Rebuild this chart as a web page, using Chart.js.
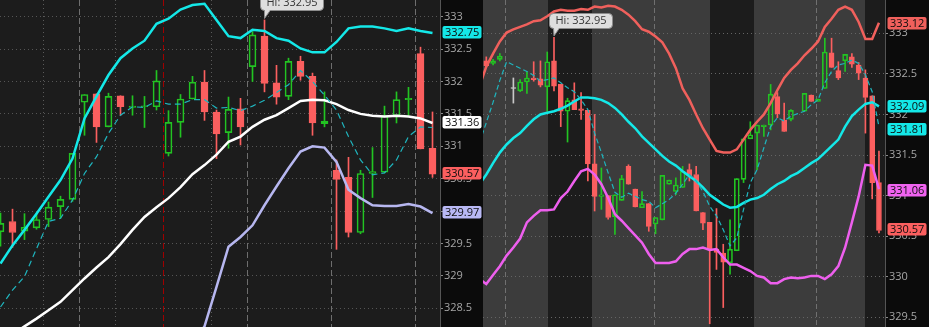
<!DOCTYPE html>
<html>
<head>
<meta charset="utf-8">
<script src="https://cdn.jsdelivr.net/npm/chart.js@4.4.0/dist/chart.umd.min.js"></script>
<style>
  html, body { margin: 0; padding: 0; background: #0b0b0b; overflow: hidden; }
  canvas { position: absolute; top: 0; }
  #izq { left: 0; }
  #der { left: 483px; }
</style>
</head>
<body>
<canvas id="izq" width="482" height="327" style="width:482px;height:327px"></canvas>
<canvas id="der" width="446" height="327" style="width:446px;height:327px"></canvas>
<script>
// DATOS PANEL IZQUIERDO (una vela por posición)
const izqApertura = [329.68, 329.84, 329.69, 329.74, 329.87, 330.07, 330.18, 331.68, 331.81, 331.30, 331.78, 331.60, 331.61, 331.61, 330.89, 331.37, 331.73, 331.99, 331.53, 331.21, 331.58, 332.23, 332.70, 331.98, 331.77, 332.31, 332.08, 331.35, 330.63, 330.52, 329.67, 330.58, 330.60, 331.47, 331.72, 332.43, 330.97];
const izqMaximo = [329.97, 330.03, 329.96, 329.97, 330.14, 330.23, 330.89, 331.80, 331.81, 331.82, 331.78, 331.78, 331.77, 332.17, 331.55, 331.80, 332.08, 332.17, 331.56, 331.76, 331.74, 332.77, 332.95, 332.25, 332.36, 332.39, 332.13, 331.84, 330.79, 330.83, 330.63, 330.98, 331.62, 331.84, 331.91, 332.53, 331.53];
const izqMinimo = [329.46, 329.44, 329.56, 329.72, 329.76, 329.89, 330.15, 331.17, 331.06, 331.30, 331.48, 331.48, 331.29, 331.56, 330.85, 331.14, 331.73, 331.40, 330.81, 330.97, 331.02, 332.00, 331.84, 331.65, 331.72, 332.02, 331.17, 331.30, 329.41, 329.60, 329.65, 330.21, 330.59, 331.36, 331.48, 330.96, 330.52];
const izqCierre = [329.81, 329.67, 329.75, 329.87, 330.06, 330.18, 330.89, 331.80, 331.30, 331.77, 331.61, 331.62, 331.62, 332.01, 331.37, 331.73, 331.99, 331.53, 331.19, 331.57, 331.30, 332.72, 331.97, 331.76, 332.31, 332.08, 331.36, 331.39, 330.49, 329.67, 330.58, 330.61, 331.47, 331.72, 331.74, 330.96, 330.57];
const izqBandaSup = [329.19, 329.47, 329.71, 329.96, 330.22, 330.48, 330.81, 331.43, 331.77, 332.10, 332.36, 332.51, 332.63, 332.89, 332.97, 333.11, 333.18, 333.20, 332.95, 332.70, 332.67, 332.80, 332.78, 332.67, 332.63, 332.51, 332.45, 332.45, 332.61, 332.82, 332.85, 332.85, 332.82, 332.78, 332.82, 332.78, 332.75];
const izqMedia = [327.98, 328.10, 328.22, 328.34, 328.47, 328.60, 328.78, 328.96, 329.13, 329.29, 329.49, 329.71, 329.91, 330.06, 330.20, 330.37, 330.57, 330.71, 330.87, 331.07, 331.15, 331.30, 331.41, 331.48, 331.59, 331.70, 331.72, 331.71, 331.65, 331.56, 331.50, 331.47, 331.46, 331.47, 331.46, 331.43, 331.36];
const izqBandaInf = [null, null, null, null, null, null, null, null, null, null, null, null, null, null, null, null, 327.98, 328.22, 328.83, 329.45, 329.60, 329.78, 330.09, 330.38, 330.66, 330.92, 331.00, 330.98, 330.76, 330.33, 330.20, 330.09, 330.08, 330.08, 330.11, 330.07, 329.97];
const izqPromedio = [328.52, 328.78, 328.99, 329.42, 329.84, 329.89, 330.17, 330.58, 330.84, 331.20, 331.48, 331.61, 331.60, 331.70, 331.65, 331.65, 331.72, 331.72, 331.59, 331.60, 331.55, 331.62, 331.71, 331.83, 331.95, 332.17, 332.00, 331.79, 331.56, 331.15, 330.79, 330.56, 330.59, 330.79, 331.15, 331.30, 331.29];
const izqTicks = [333, 332.5, 332, 331.5, 331, 330.5, 330, 329.5, 329, 328.5];
const izqEtiquetas = [332.75, 331.36, 330.57, 329.97];

// DATOS PANEL DERECHO (la primera posición queda fuera de la vista)
const derApertura = [null, 332.66, 332.63, 332.68, null, 332.32, 332.29, 332.40, 332.45, 332.44, 332.34, 332.66, 332.37, 332.04, 332.18, 332.07, 332.05, 331.39, 330.99, 331.00, 330.74, 330.94, 331.36, 331.08, 330.85, 330.90, 330.65, 330.70, 331.14, 331.05, 331.10, 331.32, 331.26, 330.79, 330.67, 330.34, 330.29, 330.17, 330.32, 331.20, 331.70, 331.77, 331.85, 331.87, 332.22, 331.93, 331.94, null, 332.04, 332.24, 332.16, 332.32, 332.76, 332.54, 332.66, 332.71, 332.61, 332.45, 332.23, 331.16];
const derMaximo = [null, 332.71, 332.68, 332.75, null, 332.45, 332.43, 332.52, 332.65, 332.66, 332.77, 332.95, 332.37, 332.20, 332.39, 332.27, 332.05, 332.00, 331.34, 331.00, 331.01, 331.25, 331.38, 331.08, 331.05, 330.90, 330.73, 331.25, 331.19, 331.22, 331.36, 331.39, 331.36, 330.79, 330.67, 330.84, 330.40, 330.70, 331.21, 331.70, 331.91, 331.87, 331.87, 332.37, 332.27, 332.14, 332.06, null, 332.26, 332.24, 332.19, 332.94, 332.94, 332.65, 332.74, 332.75, 332.64, 332.55, 332.23, 331.55];
const derMinimo = [null, 332.59, 332.61, 332.66, null, 332.14, 332.28, 332.26, 332.41, 332.34, 332.04, 332.29, 331.85, 331.66, 332.06, 331.94, 331.18, 330.81, 330.83, 330.71, 330.52, 330.94, 331.14, 330.86, 330.85, 330.56, 330.53, 330.70, 331.14, 331.01, 331.10, 331.18, 330.81, 330.58, 329.42, 330.09, 329.62, 330.03, 330.32, 331.16, 331.70, 331.32, 331.73, 331.81, 331.96, 331.79, 331.92, null, 332.04, 332.16, 332.16, 332.32, 332.58, 332.43, 332.53, 332.58, 332.43, 331.77, 330.96, 330.54];
const derCierre = [null, 332.60, 332.66, 332.72, null, 332.32, 332.40, 332.45, 332.43, 332.36, 332.65, 332.35, 332.04, 332.17, 332.06, 332.05, 331.39, 330.99, 331.01, 330.73, 331.01, 331.21, 331.14, 330.86, 330.90, 330.62, 330.73, 331.25, 331.19, 331.13, 331.30, 331.24, 330.81, 330.66, 330.34, 330.30, 330.18, 330.34, 331.21, 331.70, 331.75, 331.87, 331.87, 332.25, 332.01, 331.79, 332.05, null, 332.26, 332.16, 332.19, 332.77, 332.58, 332.45, 332.74, 332.62, 332.51, 332.21, 331.16, 330.57];
const derBandaSup = [332.35, 332.59, 332.75, 332.90, 333.01, 333.05, 333.08, 333.11, 333.15, 333.16, 333.21, 333.27, 333.29, 333.28, 333.28, 333.30, 333.29, 333.33, 333.32, 333.34, 333.33, 333.29, 333.23, 333.15, 333.05, 333.02, 332.96, 332.89, 332.75, 332.57, 332.32, 332.18, 332.00, 331.83, 331.69, 331.55, 331.53, 331.53, 331.57, 331.69, 331.81, 331.91, 332.00, 332.14, 332.30, 332.45, 332.55, 332.63, 332.73, 332.81, 332.90, 333.08, 333.18, 333.29, 333.33, 333.29, 333.14, 332.93, 332.93, 333.13];
const derMedia = [331.14, 331.26, 331.40, 331.53, 331.63, 331.71, 331.77, 331.86, 331.94, 332.00, 332.02, 332.04, 332.07, 332.11, 332.16, 332.21, 332.21, 332.20, 332.18, 332.14, 332.08, 332.00, 331.91, 331.83, 331.73, 331.65, 331.57, 331.49, 331.42, 331.37, 331.30, 331.24, 331.18, 331.10, 331.01, 330.95, 330.89, 330.85, 330.86, 330.91, 330.95, 330.97, 331.01, 331.08, 331.14, 331.18, 331.24, 331.28, 331.34, 331.40, 331.45, 331.53, 331.61, 331.69, 331.85, 331.98, 332.06, 332.13, 332.15, 332.10];
const derBandaInf = [329.97, 329.91, 330.02, 330.13, 330.26, 330.36, 330.47, 330.67, 330.75, 330.82, 330.82, 330.83, 330.97, 331.05, 331.18, 331.30, 331.33, 331.26, 331.14, 330.97, 330.77, 330.69, 330.60, 330.51, 330.42, 330.28, 330.17, 330.17, 330.17, 330.19, 330.28, 330.34, 330.34, 330.36, 330.33, 330.34, 330.24, 330.15, 330.15, 330.11, 330.07, 330.01, 329.99, 329.92, 329.92, 329.97, 329.99, 329.98, 329.99, 330.01, 330.01, 329.97, 330.03, 330.13, 330.36, 330.67, 330.99, 331.38, 331.37, 331.08];
const derPromedio = [331.65, 331.90, 332.15, 332.42, 332.65, 332.61, 332.57, 332.53, 332.48, 332.41, 332.43, 332.45, 332.39, 332.33, 332.28, 332.18, 332.06, 331.77, 331.53, 331.28, 331.04, 330.98, 331.03, 330.99, 330.95, 330.93, 330.85, 330.90, 330.95, 331.03, 331.14, 331.26, 331.18, 331.05, 330.87, 330.75, 330.58, 330.38, 330.48, 330.83, 331.16, 331.32, 331.59, 331.85, 331.96, 331.92, 331.98, 332.01, 332.04, 332.12, 332.18, 332.39, 332.53, 332.61, 332.63, 332.67, 332.63, 332.49, 332.28, 331.85];
const derTicks = [333, 332.5, 332, 331.5, 331, 330.5, 330, 329.5];
const derEtiquetas = [333.12, 332.09, 331.81, 331.06, 330.57];

// COLORES
const VERDE = "#22c422";
const ROJO = "#fb5f5f";
const GRIS = "#c8c8c8";
const CIAN = "#14e8e8";

Chart.defaults.font.family = '"Open Sans", sans-serif';
Chart.defaults.font.size = 11;

function colorVela(ctx) {
  const r = ctx.raw;
  if (!r) return GRIS;
  if (r.c > r.o) return VERDE;
  if (r.c < r.o) return ROJO;
  return GRIS;
}

function rellenoVela(ctx) {
  const r = ctx.raw;
  if (r && r.c > r.o) return "rgba(0,0,0,0)";
  return colorVela(ctx);
}

// ARMAR VELAS COMO BARRAS FLOTANTES
function armarVelas(ap, ma, mi, ci, inicio) {
  const cuerpos = [], mechaSup = [], mechaInf = [];
  ap.forEach((o, i) => {
    if (o === null) return;
    const c = ci[i];
    const x = inicio + i;
    cuerpos.push({ x, y: [o, c], o, c });
    mechaSup.push({ x, y: [Math.max(o, c), ma[i]], o, c });
    mechaInf.push({ x, y: [mi[i], Math.min(o, c)], o, c });
  });
  return { cuerpos, mechaSup, mechaInf };
}

// FONDO, FRANJAS Y LÍNEAS VERTICALES
const pluginFondo = {
  id: "fondo",
  beforeDraw(chart, args, op) {
    const { ctx, chartArea: a, scales: { x } } = chart;
    ctx.save();
    ctx.fillStyle = op.color;
    ctx.fillRect(a.left, a.top, a.right - a.left, a.bottom - a.top);
    ctx.fillStyle = op.colorTramo;
    op.tramos.forEach(t => {
      const x1 = Math.max(a.left, Math.round(x.getPixelForValue(t[0])));
      const x2 = Math.min(a.right, Math.round(x.getPixelForValue(t[1])));
      if (x2 > x1) ctx.fillRect(x1, a.top, x2 - x1, a.bottom - a.top);
    });
    ctx.lineWidth = 1;
    op.verticales.forEach(v => {
      ctx.strokeStyle = v.color;
      ctx.setLineDash(v.guion);
      v.valores.forEach(val => {
        const px = Math.round(x.getPixelForValue(val)) + 0.5;
        ctx.beginPath();
        ctx.moveTo(px, a.top);
        ctx.lineTo(px, a.bottom);
        ctx.stroke();
      });
    });
    ctx.restore();
  }
};

// ETIQUETAS DE PRECIO EN EL EJE
const pluginEtiquetas = {
  id: "etiquetas",
  afterDraw(chart, args, op) {
    const { ctx, chartArea: a, scales: { y } } = chart;
    ctx.save();
    ctx.font = '11px "Open Sans"';
    ctx.textBaseline = "middle";
    op.valores.forEach((v, i) => {
      const py = Math.round(y.getPixelForValue(v)) - 1;
      ctx.fillStyle = op.colores[i];
      ctx.beginPath();
      ctx.roundRect(a.right + 2.5, py - 6, 39, 12.5, 2);
      ctx.fill();
      ctx.fillStyle = "#0d0d0d";
      ctx.fillText(v.toFixed(2), a.right + 5, py + 0.5);
    });
    ctx.restore();
  }
};

// GLOBO DEL MÁXIMO
const pluginMaximo = {
  id: "maximo",
  afterDraw(chart, args, op) {
    const { ctx, scales: { x, y } } = chart;
    let iMax = -1;
    op.maximos.forEach((v, i) => {
      if (v !== null && (iMax < 0 || v > op.maximos[iMax])) iMax = i;
    });
    const alto = op.maximos[iMax];
    const px = x.getPixelForValue(op.inicio + iMax);
    const py = y.getPixelForValue(alto);
    const texto = "Hi: " + alto.toFixed(2);

    ctx.save();
    ctx.font = '11px "Open Sans"';
    const w = Math.round(ctx.measureText(texto).width) + 12;
    const h = 15;
    const x0 = Math.round(px - 5) + 0.5;
    const y1 = Math.round(py - 9.5) + 0.5;
    ctx.fillStyle = "#dedede";
    ctx.strokeStyle = "#8c8c8c";
    ctx.lineWidth = 1;
    ctx.beginPath();
    ctx.roundRect(x0, y1 - h, w, h, 4);
    ctx.fill();
    ctx.stroke();
    ctx.beginPath();
    ctx.moveTo(x0 + 4, y1 - 0.5);
    ctx.lineTo(px, py - 1.5);
    ctx.lineTo(x0 + 10, y1 - 0.5);
    ctx.fill();
    ctx.stroke();
    ctx.fillStyle = "#353535";
    ctx.textBaseline = "middle";
    ctx.fillText(texto, x0 + 6, y1 - h / 2);
    ctx.restore();
  }
};

// CREAR UN PANEL
function crearPanel(idCanvas, p) {
  const velas = armarVelas(p.apertura, p.maximo, p.minimo, p.cierre, p.inicio);
  const serie = valores => valores
    .map((v, i) => ({ x: p.inicio + i, y: v }))
    .filter(d => d.y !== null);

  const lineas = p.lineas.map(l => ({
    type: "line",
    data: serie(l.valores),
    borderColor: l.color,
    borderWidth: l.ancho,
    borderDash: l.guion || [],
    pointRadius: 0,
    tension: 0,
    clip: 0,
    order: 0
  }));

  return new Chart(document.getElementById(idCanvas), {
    type: "bar",
    data: {
      datasets: [
        ...lineas,
        {
          data: velas.cuerpos,
          grouped: false,
          barThickness: p.anchoCuerpo,
          maxBarThickness: p.anchoCuerpo,
          backgroundColor: rellenoVela,
          borderColor: colorVela,
          borderWidth: 1,
          borderSkipped: false,
          minBarLength: 1,
          order: 1
        },
        {
          data: velas.mechaSup,
          grouped: false,
          barThickness: 1,
          maxBarThickness: 1,
          backgroundColor: colorVela,
          borderWidth: 0,
          order: 2
        },
        {
          data: velas.mechaInf,
          grouped: false,
          barThickness: 1,
          maxBarThickness: 1,
          backgroundColor: colorVela,
          borderWidth: 0,
          order: 2
        }
      ]
    },
    options: {
      responsive: false,
      animation: false,
      events: [],
      layout: { padding: 0, autoPadding: false },
      plugins: {
        legend: { display: false },
        tooltip: { enabled: false },
        fondo: p.fondo,
        etiquetas: { valores: p.etiquetas, colores: p.coloresEtiquetas },
        maximo: { maximos: p.maximo, inicio: p.inicio }
      },
      scales: {
        x: {
          type: "linear", min: p.xMin, max: p.xMax, offset: false, display: false,
          ticks: { includeBounds: false, stepSize: 1, maxTicksLimit: 100 }
        },
        y: {
          position: "right",
          min: p.yMin,
          max: p.yMax,
          afterBuildTicks: s => { s.ticks = p.ticks.map(v => ({ value: v })); },
          afterFit: s => { s.width = p.anchoEje; s.paddingTop = 0; s.paddingBottom = 0; },
          grid: { color: p.colorGrilla, lineWidth: 1, drawTicks: true, tickLength: 3, tickColor: "#8a8a8a" },
          border: { display: true, color: "#555555", width: 1, dash: [1, 3] },
          ticks: {
            color: "#a6a6a6",
            padding: 1,
            autoSkip: false,
            callback: v => String(Math.round(v * 10) / 10)
          }
        }
      }
    },
    plugins: [pluginFondo, pluginEtiquetas, pluginMaximo]
  });
}

// INICIO
crearPanel("izq", {
  inicio: 0,
  apertura: izqApertura, maximo: izqMaximo, minimo: izqMinimo, cierre: izqCierre,
  lineas: [
    { valores: izqPromedio, color: "#1fb5be", ancho: 1.2, guion: [6, 4] },
    { valores: izqBandaInf, color: "#b7b7f0", ancho: 2.5 },
    { valores: izqMedia, color: "#ffffff", ancho: 2.5 },
    { valores: izqBandaSup, color: CIAN, ancho: 2.5 }
  ],
  ticks: izqTicks,
  etiquetas: izqEtiquetas,
  coloresEtiquetas: [CIAN, "#ffffff", ROJO, "#b8b8f4"],
  anchoCuerpo: 7,
  anchoEje: 42,
  xMin: -0.5 / 12, xMax: -0.5 / 12 + 440 / 12,
  yMin: 328.211, yMax: 333.258,
  colorGrilla: "#555555",
  fondo: {
    color: "#1c1c1c",
    colorTramo: "#1c1c1c",
    tramos: [],
    verticales: [
      { valores: [3.5, 9.5, 17.5], color: "#5a5a5a", guion: [1, 3] },
      { valores: [6.5, 20.5, 27.5, 34.5], color: "#6e6e6e", guion: [6, 3] },
      { valores: [13.5], color: "#a00000", guion: [6, 3] }
    ]
  }
});

crearPanel("der", {
  inicio: -1,
  apertura: derApertura, maximo: derMaximo, minimo: derMinimo, cierre: derCierre,
  lineas: [
    { valores: derPromedio, color: "#1fb5be", ancho: 1.2, guion: [5, 3] },
    { valores: derBandaInf, color: "#ee5fee", ancho: 2.5 },
    { valores: derMedia, color: CIAN, ancho: 2.5 },
    { valores: derBandaSup, color: "#f0605c", ancho: 2.5 }
  ],
  ticks: derTicks,
  etiquetas: derEtiquetas,
  coloresEtiquetas: ["#f0605c", CIAN, CIAN, "#f063f0", ROJO],
  anchoCuerpo: 5,
  anchoEje: 44,
  xMin: -3.3 / 6.77, xMax: -3.3 / 6.77 + 402 / 6.77,
  yMin: 329.38, yMax: 333.411,
  colorGrilla: "#646464",
  fondo: {
    color: "#3c3c3c",
    colorTramo: "#1c1c1c",
    tramos: [[9.1, 15.6], [33.1, 39.5], [56.0, 60]],
    verticales: [
      { valores: [2.7, 24.7, 48.7], color: "#707070", guion: [5, 3] }
    ]
  }
});
</script>
</body>
</html>
